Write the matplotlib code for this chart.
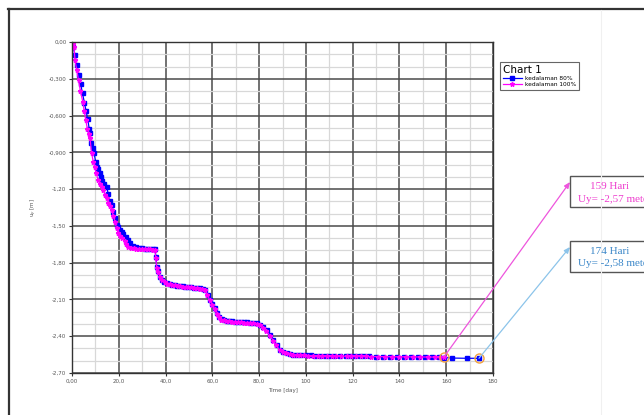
import matplotlib.pyplot as plt
from matplotlib.lines import Line2D
from matplotlib.patches import Rectangle

# kedalaman 80% (blue)
t80 = [0, 0.5, 1.3, 2.0, 3.0, 3.7, 4.5, 5.3, 6.0, 6.7, 7.4, 7.7, 8.1, 8.8, 9.4,
       10.1, 10.6, 11.3, 12.0, 12.3, 13.0, 13.8, 14.8, 15.5, 16.2, 17.0, 17.7,
       18.4, 19.4, 19.8, 20.5, 21.2, 22.0, 23.0, 24.1, 25.0, 26.2, 27.5, 28.7,
       29.8, 31.0, 32.2, 33.4, 34.5, 35.5, 35.9, 36.2, 36.8, 37.6, 38.5, 39.5,
       40.5, 41.7, 42.8, 44.0, 45.1, 46.2, 47.3, 48.5, 49.6, 50.8, 52.0, 53.3,
       54.7, 55.8, 56.9, 58.0, 59.0, 60.0, 61.1, 61.9, 63.0, 64.0, 65.0, 66.1,
       67.3, 68.5, 69.8, 71.0, 72.3, 73.6, 74.9, 76.1, 77.5, 79.0, 80.4, 81.8,
       83.2, 84.7, 86.1, 87.5, 88.9, 90.3, 91.8, 93.2, 94.6, 96.1, 98, 100, 102,
       104, 106, 108, 110, 112, 114.6, 117, 119, 121, 123, 125, 127, 130, 133,
       136, 139, 142, 145, 148, 151, 154, 157, 159, 162.3, 168.7, 174]
u80 = [0, -0.04, -0.106, -0.188, -0.269, -0.343, -0.42, -0.495, -0.56, -0.628,
       -0.71, -0.742, -0.824, -0.865, -0.903, -0.976, -1.017, -1.04, -1.066,
       -1.099, -1.13, -1.158, -1.18, -1.24, -1.294, -1.33, -1.384, -1.436,
       -1.493, -1.507, -1.53, -1.547, -1.565, -1.59, -1.615, -1.64, -1.664,
       -1.675, -1.68, -1.683, -1.686, -1.688, -1.689, -1.69, -1.691, -1.751,
       -1.833, -1.87, -1.914, -1.94, -1.955, -1.968, -1.975, -1.98, -1.984,
       -1.987, -1.99, -1.993, -1.996, -1.998, -2.0, -2.003, -2.006, -2.009,
       -2.014, -2.023, -2.06, -2.104, -2.14, -2.17, -2.213, -2.24, -2.262,
       -2.268, -2.273, -2.276, -2.279, -2.281, -2.283, -2.285, -2.286, -2.288,
       -2.289, -2.292, -2.295, -2.305, -2.325, -2.349, -2.39, -2.431, -2.47,
       -2.512, -2.528, -2.539, -2.546, -2.55, -2.553, -2.555, -2.556, -2.557,
       -2.558, -2.559, -2.56, -2.56, -2.561, -2.561, -2.562, -2.563, -2.563,
       -2.564, -2.564, -2.565, -2.566, -2.566, -2.567, -2.567, -2.568, -2.568,
       -2.569, -2.57, -2.571, -2.572, -2.574, -2.578, -2.58, -2.58]

# kedalaman 100% (magenta)
t100 = [0, 0.4, 0.86, 1.28, 2.0, 2.8, 3.6, 4.6, 5.2, 5.86, 6.6, 7.2, 7.7, 8.4,
        9.1, 9.7, 10.3, 11.2, 11.9, 12.7, 13.4, 14.1, 14.8, 15.6, 16.3, 17.0,
        17.7, 18.4, 19.1, 19.8, 20.6, 21.5, 22.5, 23.3, 24.1, 25.2, 26.3, 27.5,
        28.7, 29.9, 31.1, 32.3, 33.5, 34.6, 35.4, 35.8, 36.2, 36.9, 37.7, 38.6,
        39.6, 40.6, 41.8, 42.9, 44.1, 45.2, 46.3, 47.4, 48.6, 49.7, 50.9, 52.1,
        53.4, 54.6, 55.7, 56.8, 57.9, 58.9, 59.9, 61.0, 61.8, 62.9, 63.9, 64.9,
        66.0, 67.2, 68.4, 69.7, 70.9, 72.2, 73.5, 74.8, 76.0, 77.4, 78.9, 80.3,
        81.7, 83.1, 84.6, 86.0, 87.4, 88.8, 90.2, 91.7, 93.1, 94.5, 96.0, 97.5,
        99, 101, 103, 105, 107, 109, 111, 113, 115, 117.5, 119.5, 121.5, 123.5,
        125.5, 128, 131, 134, 137, 140, 143, 146, 149, 152, 155, 157.5, 159]
u100 = [0, -0.02, -0.038, -0.147, -0.228, -0.31, -0.4, -0.487, -0.56, -0.636,
        -0.71, -0.75, -0.785, -0.908, -0.976, -1.02, -1.071, -1.126, -1.155,
        -1.18, -1.21, -1.248, -1.27, -1.31, -1.34, -1.37, -1.42, -1.47, -1.52,
        -1.561, -1.58, -1.6, -1.625, -1.65, -1.67, -1.678, -1.682, -1.685,
        -1.687, -1.689, -1.69, -1.691, -1.692, -1.693, -1.694, -1.76, -1.84,
        -1.88, -1.92, -1.945, -1.96, -1.972, -1.978, -1.982, -1.986, -1.989,
        -1.992, -1.995, -1.997, -2.0, -2.002, -2.005, -2.008, -2.011, -2.016,
        -2.026, -2.065, -2.108, -2.145, -2.175, -2.218, -2.245, -2.265, -2.271,
        -2.276, -2.279, -2.282, -2.284, -2.286, -2.288, -2.289, -2.291, -2.292,
        -2.295, -2.298, -2.308, -2.33, -2.355, -2.395, -2.436, -2.475, -2.515,
        -2.53, -2.54, -2.547, -2.551, -2.554, -2.556, -2.557, -2.558, -2.559,
        -2.56, -2.561, -2.561, -2.562, -2.562, -2.563, -2.563, -2.564, -2.564,
        -2.565, -2.565, -2.566, -2.566, -2.567, -2.567, -2.568, -2.568, -2.569,
        -2.569, -2.57, -2.57, -2.57, -2.57]

x_ticks = [0, 20, 40, 60, 80, 100, 120, 140, 160, 180]
x_labels = ["0,00", "20,0", "40,0", "60,0", "80,0", "100", "120", "140", "160", "180"]
y_ticks = [0, -0.3, -0.6, -0.9, -1.2, -1.5, -1.8, -2.1, -2.4, -2.7]
y_labels = ["0,00", "-0,300", "-0,600", "-0,900", "-1,20", "-1,50", "-1,80",
            "-2,10", "-2,40", "-2,70"]

callouts = [
    (159, -2.57, "159 Hari", "Uy= -2,57 meter", "#ee3fcf", "#ee55dd", 182),
    (174, -2.58, "174 Hari", "Uy= -2,58 meter", "#3a86c8", "#8cc4ea", 247),
]

W, H = 644, 415
fig = plt.figure(figsize=(W / 100, H / 100), dpi=100)

# page frame of the screenshot
fig.add_artist(Line2D([8 / W, 1], [1 - 9 / H, 1 - 9 / H], color="#333333", lw=1.6))
fig.add_artist(Line2D([9 / W, 9 / W], [0, 1 - 9 / H], color="#333333", lw=1.6))
fig.add_artist(Line2D([601 / W, 601 / W], [0, 1 - 10 / H], color="#f0f0f0", lw=0.8))

ax = fig.add_axes([72 / W, 1 - 373 / H, 421 / W, 331 / H])
ax.set_xlim(0, 180)
ax.set_ylim(-2.7, 0)

ax.set_xticks(x_ticks)
ax.set_xticklabels(x_labels)
ax.set_yticks(y_ticks)
ax.set_yticklabels(y_labels)
ax.set_xticks(range(10, 180, 20), minor=True)
ax.set_yticks([-0.1, -0.2, -0.4, -0.5, -0.7, -0.8, -1.0, -1.1, -1.3, -1.4,
               -1.6, -1.7, -1.9, -2.0, -2.2, -2.3, -2.5, -2.6], minor=True)
ax.grid(which="major", color="#4a4a4a", lw=1.1)
ax.grid(which="minor", color="#d8d8d8", lw=0.9)
ax.set_axisbelow(True)
ax.tick_params(which="major", labelsize=4, colors="#333333", labelcolor="#555555",
               length=2.5, width=0.8, pad=1.5)
ax.tick_params(which="minor", length=0)
for sp in ax.spines.values():
    sp.set_color("#333333")
    sp.set_linewidth(1.0)

ax.set_xlabel("Time [day]", fontsize=4, color="#555555", labelpad=3)
ax.set_ylabel("u$_y$ [m]", fontsize=4, color="#555555", labelpad=7)

ax.plot(t80, u80, color="#0000ff", lw=0.9, marker="s", ms=3.4,
        label="kedalaman 80%")
ax.plot(t100, u100, color="#ff00ff", lw=0.9, marker="*", ms=3.4,
        label="kedalaman 100%")

leg = ax.legend(loc="upper left", bbox_to_anchor=(497 / W, 1 - 59 / H),
                bbox_transform=fig.transFigure, title="Chart 1", fontsize=4.2,
                title_fontsize=7.5, alignment="left", fancybox=False,
                edgecolor="#666666", framealpha=1, borderpad=0.5,
                handlelength=3.2, labelspacing=0.2, handletextpad=0.6)
leg.get_frame().set_linewidth(0.8)

for tx, uy, line1, line2, tcol, acol, ytip in callouts:
    ax.plot([tx], [uy], marker="o", ms=6.5, mfc="none", mec="#f0a040", mew=1.0)
    ax.annotate("", xy=(570, H - ytip), xycoords="figure pixels",
                xytext=(tx, uy), textcoords="data", annotation_clip=False,
                arrowprops=dict(arrowstyle="-|>,head_length=0.35,head_width=0.15",
                                color=acol, lw=0.9, shrinkA=0, shrinkB=0))
    ybox = ytip - 6
    fig.add_artist(Rectangle((570 / W, 1 - (ybox + 31) / H), 120 / W, 31 / H,
                             transform=fig.transFigure, fill=True, fc="white",
                             ec="#555555", lw=1.0))
    fig.text(610 / W, 1 - (ybox + 10) / H, line1, color=tcol, fontsize=8,
             family="Liberation Serif", ha="center", va="center")
    fig.text(578 / W, 1 - (ybox + 23) / H, line2, color=tcol, fontsize=8,
             family="Liberation Serif", ha="left", va="center")

fig.savefig("out.png", dpi=100)
